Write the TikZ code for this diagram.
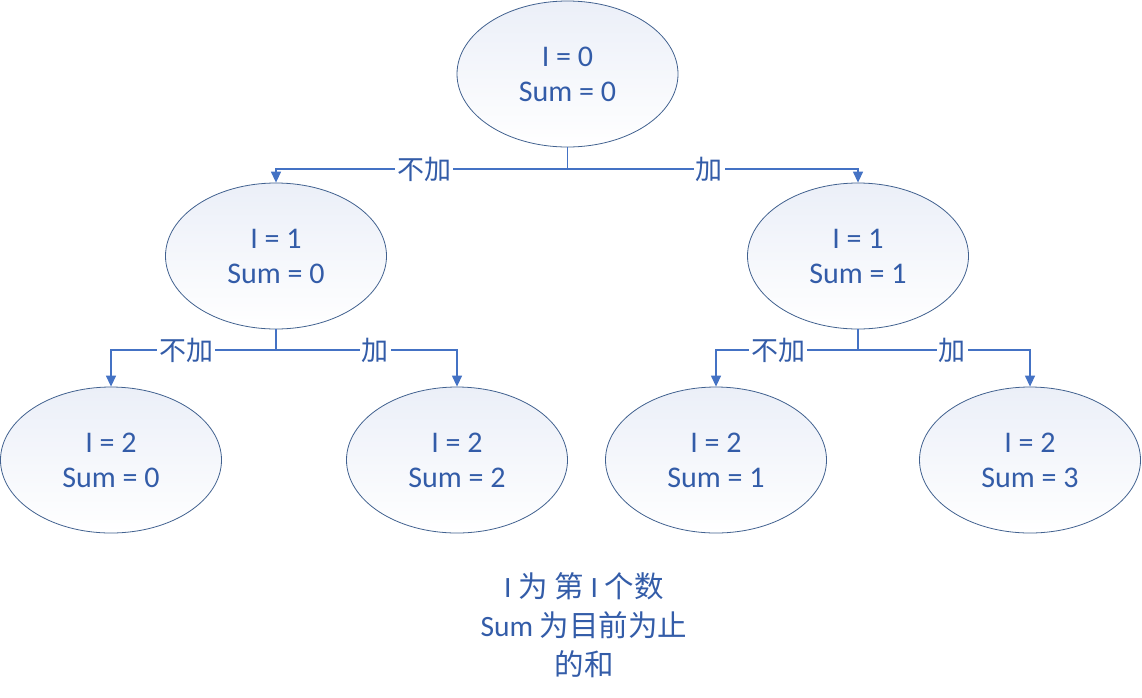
\documentclass[tikz,border=0pt]{standalone}
\usepackage{fontspec}
\setmainfont{Carlito}
\newfontfamily\cjk{Noto Sans CJK SC}
\usetikzlibrary{shapes.geometric,arrows.meta}
\definecolor{txtblue}{HTML}{335CA8}
\definecolor{lineblue}{HTML}{4472C4}
\definecolor{edgeblue}{HTML}{41618F}
\definecolor{filltop}{HTML}{EBEFF8}
\tikzset{
  state/.style={ellipse, draw=edgeblue, line width=0.8pt, top color=filltop, bottom color=white,
    minimum width=221pt, minimum height=146pt, inner sep=0pt, align=center,
    text=txtblue, font=\fontsize{30}{35}\selectfont},
  conn/.style={draw=lineblue, line width=1.3pt},
  arr/.style={conn, -{Triangle[length=11pt,width=10pt]}},
  lbl/.style={fill=white, text=txtblue, inner sep=2pt, font=\cjk\fontsize{27}{30}\selectfont},
  note/.style={text=txtblue, align=center, font=\fontsize{29.5}{39}\selectfont}
}
\begin{document}
\begin{tikzpicture}[x=1pt,y=-1pt]
\useasboundingbox (0,0) rectangle (1142,697);
\node[state] (r)  at (567.5,74) {I = 0\\Sum = 0};
\node[state] (a)  at (276,256) {I = 1\\Sum = 0};
\node[state] (b)  at (858,256) {I = 1\\Sum = 1};
\node[state] (aa) at (111,460) {I = 2\\Sum = 0};
\node[state] (ab) at (457,460) {I = 2\\Sum = 2};
\node[state] (ba) at (716,460) {I = 2\\Sum = 1};
\node[state] (bb) at (1030,460) {I = 2\\Sum = 3};
\coordinate (jr) at (567.5,169);
\coordinate (ja) at (276,350);
\coordinate (jb) at (858,350);
\draw[conn] (r.south) -- (jr);
\draw[arr] (jr) -| (a.north);
\draw[arr] (jr) -| (b.north);
\draw[conn] (a.south) -- (ja);
\draw[arr] (ja) -| (aa.north);
\draw[arr] (ja) -| (ab.north);
\draw[conn] (b.south) -- (jb);
\draw[arr] (jb) -| (ba.north);
\draw[arr] (jb) -| (bb.north);
\node[lbl] (l1) at (424,169) {不加};
\node[lbl] (l2) at (709,169) {加};
\node[lbl] (l3) at (186,350) {不加};
\node[lbl] (l4) at (375,350) {加};
\node[lbl] (l5) at (778,350) {不加};
\node[lbl] (l6) at (952,350) {加};
\node[note] (n) at (584,625) {I {\cjk 为} {\cjk 第} I {\cjk 个数}\\Sum {\cjk 为目前为止}\\{\cjk 的和}};
\end{tikzpicture}
\end{document}
